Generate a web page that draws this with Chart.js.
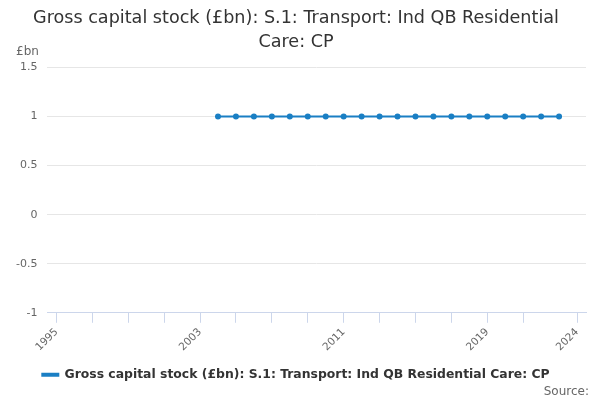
<!DOCTYPE html>
<html>
<head>
<meta charset="utf-8">
<script src="https://cdn.jsdelivr.net/npm/chart.js@4.4.0/dist/chart.umd.min.js"></script>
<style>
  html, body { margin: 0; padding: 0; background: #fff; }
  #wrap { position: relative; width: 600px; height: 400px; }
  #source { position: absolute; right: 11px; top: 384px; font: 12px "DejaVu Sans", sans-serif; color: #666; }
</style>
</head>
<body>
<div id="wrap">
  <canvas id="chart" width="600" height="400"></canvas>
  <div id="source">Source:</div>
</div>
<script>
// Data
const years = [2004, 2005, 2006, 2007, 2008, 2009, 2010, 2011, 2012, 2013,
               2014, 2015, 2016, 2017, 2018, 2019, 2020, 2021, 2022, 2023];
const values = [1, 1, 1, 1, 1, 1, 1, 1, 1, 1,
                1, 1, 1, 1, 1, 1, 1, 1, 1, 1];
const xTicks = [1995, 1997, 1999, 2001, 2003, 2005, 2007, 2009, 2011, 2013,
                2015, 2017, 2019, 2021, 2024];
const xLabels = [1995, 2003, 2011, 2019, 2024];
const yTicks = [-1, -0.5, 0, 0.5, 1, 1.5];

const seriesName = "Gross capital stock (£bn): S.1: Transport: Ind QB Residential Care: CP";
const LINE_COLOR = "#1a7fc4";

Chart.defaults.font.family = '"DejaVu Sans", sans-serif';

const yUnitLabel = {
  id: "yUnitLabel",
  afterDraw(chart) {
    const ctx = chart.ctx;
    ctx.save();
    ctx.font = '12px "DejaVu Sans", sans-serif';
    ctx.fillStyle = "#666";
    ctx.textAlign = "left";
    ctx.textBaseline = "middle";
    ctx.fillText("£bn", 16, 52);
    ctx.restore();
  }
};

new Chart(document.getElementById("chart"), {
  type: "line",
  data: {
    datasets: [{
      label: seriesName,
      data: years.map((y, i) => ({ x: y, y: values[i] })),
      borderColor: LINE_COLOR,
      backgroundColor: LINE_COLOR,
      borderWidth: 2,
      pointRadius: 2,
      pointHoverRadius: 3,
      fill: false,
      tension: 0
    }]
  },
  options: {
    responsive: false,
    animation: false,
    layout: { padding: { left: 6, right: 14, top: 0, bottom: 9 } },
    plugins: {
      title: {
        display: true,
        text: ["Gross capital stock (£bn): S.1: Transport: Ind QB Residential", "Care: CP"],
        color: "#333",
        font: { size: 17.6, weight: "normal", lineHeight: 1.35 },
        padding: { top: 7, bottom: 13 }
      },
      legend: {
        position: "bottom",
        labels: {
          color: "#333",
          font: { size: 12.4, weight: "bold" },
          boxWidth: 16,
          boxHeight: 2,
          padding: 12
        }
      },
      tooltip: { enabled: false }
    },
    scales: {
      x: {
        type: "linear",
        min: 1994.5,
        max: 2024.5,
        afterBuildTicks: axis => { axis.ticks = xTicks.map(v => ({ value: v })); },
        ticks: {
          autoSkip: false,
          maxRotation: 45,
          minRotation: 45,
          color: "#666",
          font: { size: 10.5 },
          padding: 3,
          callback: v => xLabels.includes(v) ? String(v) : ""
        },
        grid: {
          display: true,
          drawOnChartArea: false,
          drawTicks: true,
          tickLength: 10,
          color: "#ccd6eb"
        },
        border: { color: "#ccd6eb" }
      },
      y: {
        min: -1,
        max: 1.5,
        afterBuildTicks: axis => { axis.ticks = yTicks.map(v => ({ value: v })); },
        ticks: {
          color: "#666",
          font: { size: 11 },
          padding: 10,
          callback: v => String(v)
        },
        grid: { color: "#e6e6e6", drawTicks: false },
        border: { display: false }
      }
    }
  },
  plugins: [yUnitLabel]
});
</script>
</body>
</html>
